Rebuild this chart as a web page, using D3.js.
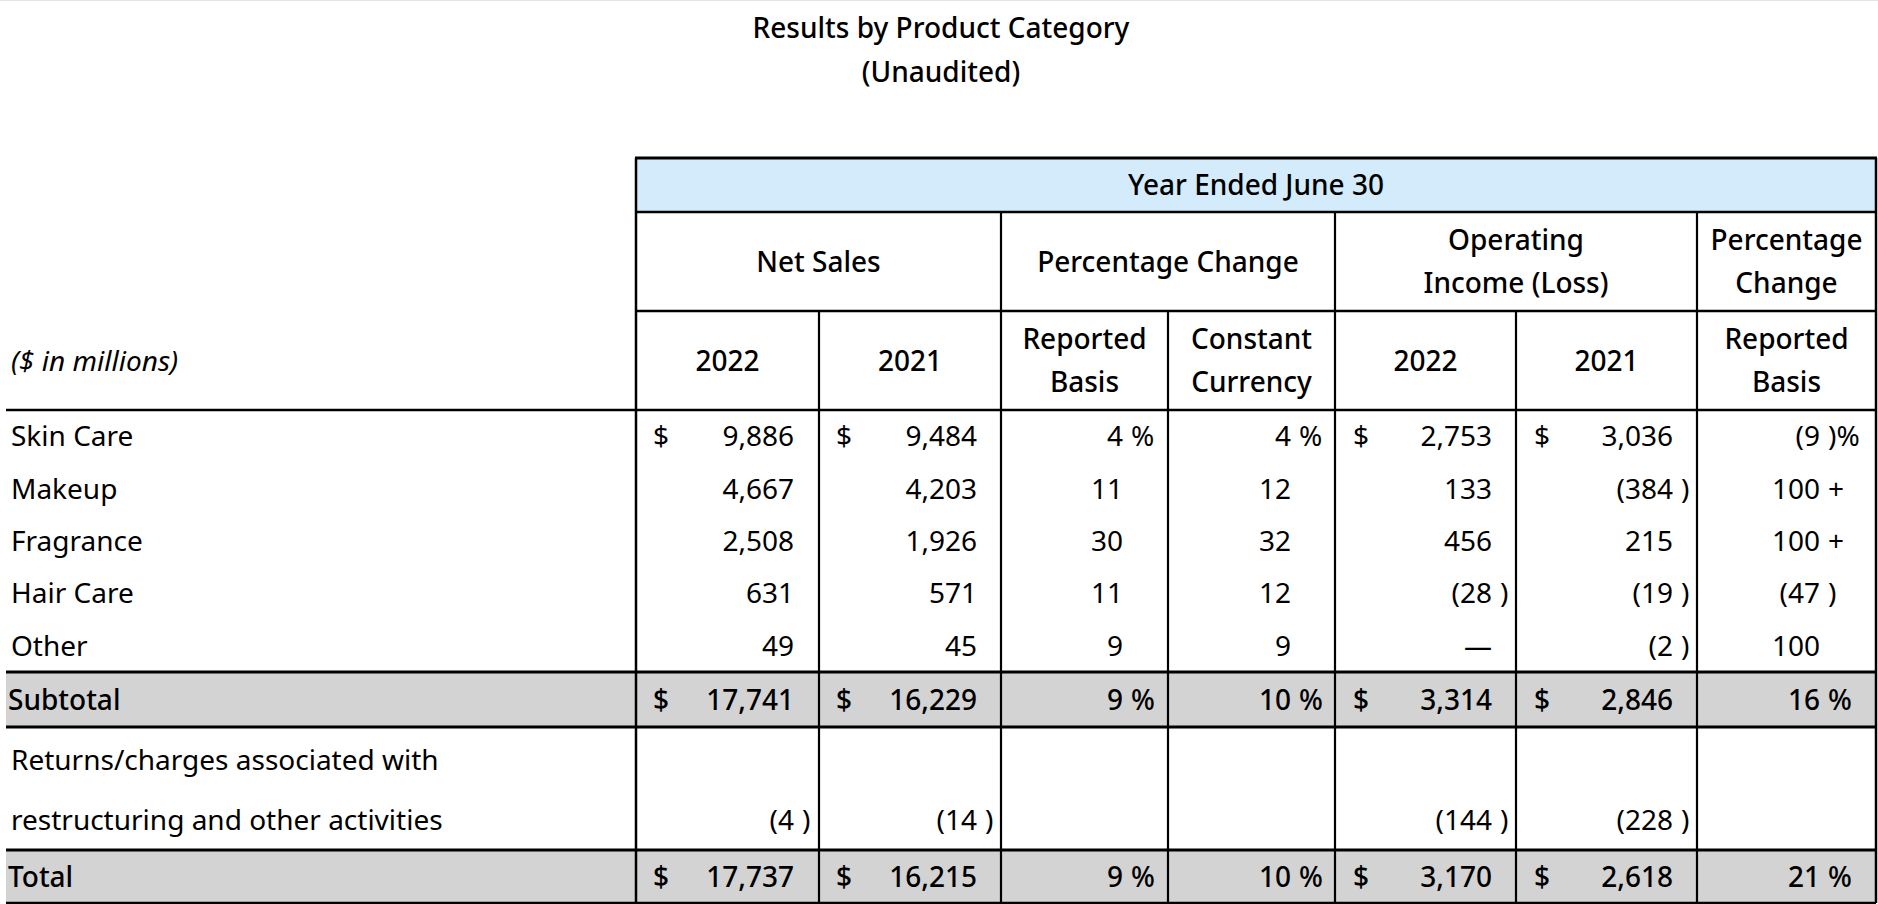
<!DOCTYPE html>
<html>
<head>
<meta charset="utf-8">
<script src="https://cdn.jsdelivr.net/npm/d3@7"></script>
<style>
  html, body { margin: 0; padding: 0; background: #fff; }
  svg { display: block; font-family: "Noto Sans", "Open Sans", sans-serif; }
</style>
</head>
<body>
<svg id="chart" width="1878" height="904"></svg>
<script>
// data
const categories = ["Skin Care", "Makeup", "Fragrance", "Hair Care", "Other"];
const netSales2022 = [9886, 4667, 2508, 631, 49];
const netSales2021 = [9484, 4203, 1926, 571, 45];
const pctReported = [4, 11, 30, 11, 9];
const pctConstant = [4, 12, 32, 12, 9];
const opIncome2022 = [2753, 133, 456, -28, null];
const opIncome2021 = [3036, -384, 215, -19, -2];
const opPctReported = [-9, "100+", "100+", -47, 100];

const subtotal = [17741, 16229, 9, 10, 3314, 2846, 16];
const returnsCharges = [-4, -14, null, null, -144, -228, null];
const total = [17737, 16215, 9, 10, 3170, 2618, 21];

const yearLabels = ["2022", "2021"];

// layout
const W = 1878;
const BOLD = 550;
const tableLeft = 636;
const colKeys = ["ns22", "ns21", "pr", "pc", "oi22", "oi21", "opr"];
const colWidths = [183, 182, 167, 167, 181, 181, 179];
const valuePad = [25, 24, 45, 44, 24, 24, 56];
const dollarCols = [0, 1, 4, 5];
const pctCols = [2, 3, 6];

const colLeft = [];
colWidths.reduce((acc, w) => { colLeft.push(acc); return acc + w; }, tableLeft);
const tableRight = tableLeft + d3.sum(colWidths);
const x = d3.scaleOrdinal(colKeys, colLeft);
const colRight = (i) => x(colKeys[i]) + colWidths[i];

const yTop = 158, yHead1 = 212, yHead2 = 311, yHead3 = 410;
const yBody = d3.scaleBand(categories, [yHead3, 672]);
const ySub = [672, 727], yRet = [727, 850], yTot = [850, 903];

const fmt = d3.format(",");
const svg = d3.select("#chart");

// faint frame line at very top
svg.append("line").attr("x1", 0).attr("x2", W).attr("y1", 0.5).attr("y2", 0.5)
  .attr("stroke", "#e4e4e4").attr("stroke-width", 1);

// title
svg.append("text").attr("x", 941).attr("y", 38).attr("text-anchor", "middle")
  .attr("font-size", 28).attr("font-weight", BOLD).text("Results by Product Category");
svg.append("text").attr("x", 941).attr("y", 82).attr("text-anchor", "middle")
  .attr("font-size", 28).attr("font-weight", BOLD).text("(Unaudited)");

// fills
svg.append("rect").attr("x", tableLeft).attr("y", yTop).attr("width", tableRight - tableLeft)
  .attr("height", yHead1 - yTop).attr("fill", "#d3ebfa");
[ySub, yTot].forEach(r => {
  svg.append("rect").attr("x", 6).attr("y", r[0]).attr("width", tableRight - 6)
    .attr("height", r[1] - r[0]).attr("fill", "#d3d3d3");
});

// header text
const head = svg.append("g").attr("font-size", 28).attr("font-weight", BOLD).attr("text-anchor", "middle");
head.append("text").attr("x", (tableLeft + tableRight) / 2).attr("y", 195).text("Year Ended June 30");

const groups = [
  { from: 0, to: 1, lines: ["Net Sales"] },
  { from: 2, to: 3, lines: ["Percentage Change"] },
  { from: 4, to: 5, lines: ["Operating", "Income (Loss)"] },
  { from: 6, to: 6, lines: ["Percentage", "Change"] }
];
groups.forEach(g => {
  const cx = (x(colKeys[g.from]) + colRight(g.to)) / 2;
  const cy = (yHead1 + yHead2) / 2;
  g.lines.forEach((t, j) => {
    head.append("text").attr("x", cx)
      .attr("y", cy + 10 + (j - (g.lines.length - 1) / 2) * 43).text(t);
  });
});

const subHeads = [[yearLabels[0]], [yearLabels[1]], ["Reported", "Basis"], ["Constant", "Currency"],
  [yearLabels[0]], [yearLabels[1]], ["Reported", "Basis"]];
subHeads.forEach((lines, i) => {
  const cx = x(colKeys[i]) + colWidths[i] / 2;
  const cy = (yHead2 + yHead3) / 2;
  lines.forEach((t, j) => {
    head.append("text").attr("x", cx)
      .attr("y", cy + 10 + (j - (lines.length - 1) / 2) * 43).text(t);
  });
});

svg.append("text").attr("x", 11).attr("y", (yHead2 + yHead3) / 2 + 10)
  .attr("font-size", 28).attr("font-style", "italic").text("($ in millions)");

// cell drawing
function cellParts(v, i, withPct) {
  if (v === null || v === undefined) return null;
  if (v === "100+") return { main: "100", suf: "+" };
  let main, suf = "";
  if (v < 0) { main = "(" + fmt(-v); suf = ")"; }
  else main = fmt(v);
  if (withPct && pctCols.includes(i)) suf += "%";
  return { main, suf };
}

function drawRow(values, baseline, opts) {
  const g = svg.append("g").attr("font-size", 28).attr("font-weight", opts.bold ? BOLD : 400);
  values.forEach((v, i) => {
    let p = cellParts(v, i, opts.pct);
    if (v === null && opts.dash && i === 4) p = { main: "\u2014", suf: "" };
    if (!p) return;
    const vr = colRight(i) - valuePad[i];
    g.append("text").attr("x", vr).attr("y", baseline).attr("text-anchor", "end").text(p.main);
    if (p.suf) g.append("text").attr("x", vr + 8).attr("y", baseline).text(p.suf);
    if (opts.dollar && dollarCols.includes(i)) {
      g.append("text").attr("x", x(colKeys[i]) + (i >= 4 ? 18 : 17)).attr("y", baseline).text("$");
    }
  });
}

// body rows
categories.forEach((c, k) => {
  const base = yBody(c) + yBody.bandwidth() / 2 + 10;
  svg.append("text").attr("x", 11).attr("y", base).attr("font-size", 28).text(c);
  drawRow([netSales2022[k], netSales2021[k], pctReported[k], pctConstant[k],
    opIncome2022[k], opIncome2021[k], opPctReported[k]], base,
    { dollar: k === 0, pct: k === 0, dash: true });
});

// subtotal
const subBase = (ySub[0] + ySub[1]) / 2 + 10;
svg.append("text").attr("x", 8).attr("y", subBase).attr("font-size", 28).attr("font-weight", BOLD).text("Subtotal");
drawRow(subtotal, subBase, { dollar: true, pct: true, bold: true });

// returns/charges
svg.append("text").attr("x", 11).attr("y", 770).attr("font-size", 28).text("Returns/charges associated with");
svg.append("text").attr("x", 11).attr("y", 830).attr("font-size", 28).text("restructuring and other activities");
drawRow(returnsCharges, 830, {});

// total
const totBase = (yTot[0] + yTot[1]) / 2 + 10;
svg.append("text").attr("x", 8).attr("y", totBase).attr("font-size", 28).attr("font-weight", BOLD).text("Total");
drawRow(total, totBase, { dollar: true, pct: true, bold: true });

// grid lines
const lines = svg.append("g").attr("stroke", "#000").attr("fill", "none");
const hline = (x1, x2, y, w) => lines.append("line").attr("x1", x1).attr("x2", x2)
  .attr("y1", y).attr("y2", y).attr("stroke-width", w);
const vline = (xx, y1, y2, w) => lines.append("line").attr("x1", xx).attr("x2", xx)
  .attr("y1", y1).attr("y2", y2).attr("stroke-width", w);

hline(tableLeft - 1, tableRight + 1, yTop, 3);
hline(tableLeft, tableRight, yHead1, 2.5);
hline(tableLeft, tableRight, yHead2, 2.5);
hline(6, tableRight, yHead3, 2.5);
hline(6, tableRight, ySub[0], 3);
hline(6, tableRight, ySub[1], 3);
hline(6, tableRight, yTot[0], 3);
hline(6, tableRight, yTot[1], 2.5);

vline(tableLeft, yTop, yTot[1], 2.5);
vline(tableRight, yTop, yTot[1], 2.5);
[2, 4, 6].forEach(i => vline(x(colKeys[i]), yHead1, yTot[1], 2.2));
[1, 3, 5].forEach(i => vline(x(colKeys[i]), yHead2, yTot[1], 2.2));
</script>
</body>
</html>
